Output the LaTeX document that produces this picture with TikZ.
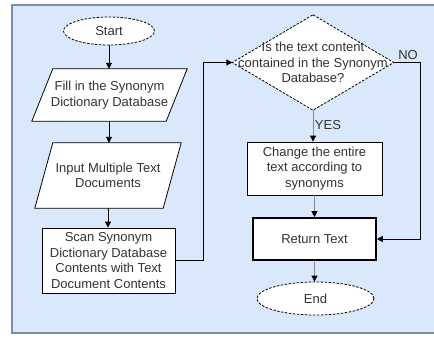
\documentclass[tikz,border=0pt]{standalone}
\usepackage{fontspec}
\setmainfont{Liberation Sans}
\usetikzlibrary{arrows.meta,calc,shapes.geometric}
\definecolor{bgblue}{HTML}{DAE8FC}
\definecolor{framec}{HTML}{7D8CA8}
\definecolor{txt}{HTML}{333333}
\definecolor{lgray}{HTML}{8A8A8A}
\begin{document}
\begin{tikzpicture}[x=1pt,y=-1pt,
  font=\fontsize{13}{15.5}\selectfont,
  plain/.style={inner sep=0pt, align=center, text=txt},
  box/.style={plain, draw=black, fill=white, line width=0.8pt},
  term/.style={plain, ellipse, draw=black, fill=white, line width=0.8pt, dash pattern=on 2.5pt off 1.5pt},
  shapeline/.style={draw=black, fill=white, line width=0.8pt},
  arr/.style={-{Triangle[length=6pt,width=6pt]}, line width=0.9pt, draw=black},
  garr/.style={-{Triangle[length=6pt,width=6pt,color=black]}, line width=0.9pt, draw=lgray},
  lab/.style={inner sep=0pt, text=txt}
]
\useasboundingbox (0,0) rectangle (434,338);
% frame
\draw[fill=bgblue, draw=framec, line width=2pt] (12,5) rectangle (445,333);

% Start
\node[term, minimum width=91pt, minimum height=28pt] (start) at (109,31) {Start};

% Fill parallelogram
\node[plain, minimum width=134pt, minimum height=52pt] (fill) at (109.5,95) {};
\path[shapeline] ($(fill.north west)+(10.5,0)$) -- ($(fill.north east)+(10.5,0)$)
  -- ($(fill.south east)+(-10.5,0)$) -- ($(fill.south west)+(-10.5,0)$) -- cycle;
\node[plain] (filltext) at (fill) {Fill in the Synonym\\Dictionary Database};

% Input parallelogram
\node[plain, minimum width=128pt, minimum height=65pt] (input) at (108,175.5) {};
\path[shapeline] ($(input.north west)+(9,0)$) -- ($(input.north east)+(9,0)$)
  -- ($(input.south east)+(-9,0)$) -- ($(input.south west)+(-9,0)$) -- cycle;
\node[plain] (inputtext) at (input) {Input Multiple Text\\Documents};

% Scan
\node[box, minimum width=133pt, minimum height=65pt] (scan) at (108.5,260.5)
  {Scan Synonym\\Dictionary Database\\Contents with Text\\Document Contents};

% Decision
\node[plain, minimum width=161pt, minimum height=95pt] (dec) at (313,62.5) {};
\path[shapeline, dash pattern=on 2.5pt off 1.5pt] (dec.north) -- (dec.east) -- (dec.south) -- (dec.west) -- cycle;
\node[plain] (dectext) at (dec) {Is the text content\\contained in the Synonym\\Database?};

% Change
\node[box, minimum width=135pt, minimum height=53pt] (chg) at (314.5,168.5)
  {Change the entire\\text according to\\synonyms};

% Return
\node[box, line width=1.6pt, minimum width=123pt, minimum height=42pt] (ret) at (314.5,239) {Return Text};

% End
\node[term, minimum width=117pt, minimum height=33pt] (end) at (315.5,298.5) {End};

% connectors
\coordinate (jx) at (203,0);
\coordinate (nx) at (420,0);
\draw[arr] (start.south) -- (start.south |- fill.north);
\draw[arr] (fill.south -| start.south) -- (start.south |- input.north);
\draw[arr] (input.south) -- (input.south |- scan.north);
\draw[arr] (scan.east) -| (jx |- dec.west) -- (dec.west);
\draw[arr] (dec.east) -| (nx |- ret.east) -- (ret.east);
\draw[garr] (dec.south) -- (dec.south |- chg.north);
\draw[garr] (chg.south) -- (chg.south |- ret.north);
\draw[garr] (ret.south) -- (ret.south |- end.north);

% labels
\node[lab] (yes) at (328,125) {YES};
\node[lab] (no) at (408,55) {NO};
\end{tikzpicture}
\end{document}
